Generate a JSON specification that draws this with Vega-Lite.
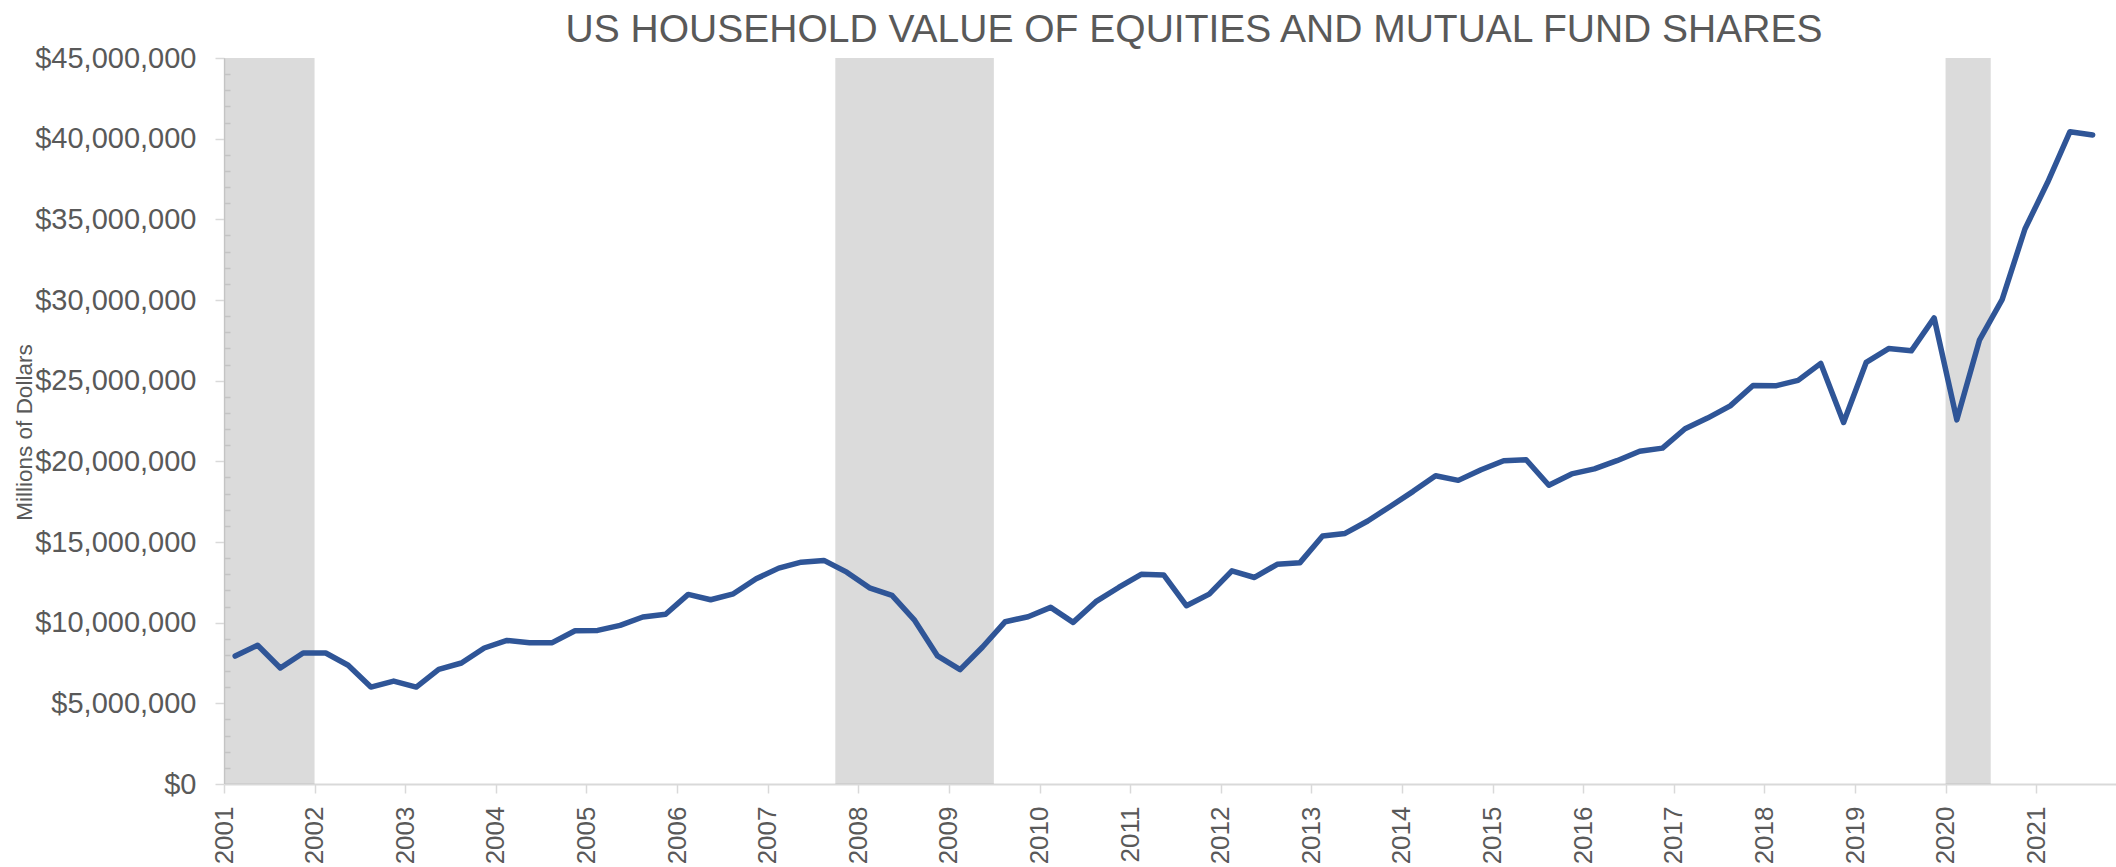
{
  "$schema": "https://vega.github.io/schema/vega-lite/v6.json",
  "width": 1892,
  "height": 726,
  "autosize": {"type": "none"},
  "padding": {"left": 224, "top": 58, "right": 0, "bottom": 83},
  "background": "white",
  "config": {"view": {"stroke": null}, "font": "Liberation Sans"},
  "title": {
    "text": "US HOUSEHOLD VALUE OF EQUITIES AND MUTUAL FUND SHARES",
    "orient": "top",
    "frame": "group",
    "anchor": "middle",
    "dx": 24,
    "dy": 22,
    "offset": 16,
    "fontSize": 39,
    "fontWeight": "normal",
    "color": "#595959",
    "font": "Liberation Sans"
  },
  "datasets": {
    "recessions": [
      {"start": "2001-01-01", "end": "2002-01-01"},
      {"start": "2007-10-01", "end": "2009-07-01"},
      {"start": "2020-01-01", "end": "2020-07-01"}
    ],
    "series": [
      {"date": "2001-01-01", "value": 7930000},
      {"date": "2001-04-01", "value": 8600000},
      {"date": "2001-07-01", "value": 7190000},
      {"date": "2001-10-01", "value": 8120000},
      {"date": "2002-01-01", "value": 8120000},
      {"date": "2002-04-01", "value": 7360000},
      {"date": "2002-07-01", "value": 6010000},
      {"date": "2002-10-01", "value": 6380000},
      {"date": "2003-01-01", "value": 6010000},
      {"date": "2003-04-01", "value": 7110000},
      {"date": "2003-07-01", "value": 7500000},
      {"date": "2003-10-01", "value": 8430000},
      {"date": "2004-01-01", "value": 8900000},
      {"date": "2004-04-01", "value": 8760000},
      {"date": "2004-07-01", "value": 8760000},
      {"date": "2004-10-01", "value": 9500000},
      {"date": "2005-01-01", "value": 9520000},
      {"date": "2005-04-01", "value": 9830000},
      {"date": "2005-07-01", "value": 10350000},
      {"date": "2005-10-01", "value": 10520000},
      {"date": "2006-01-01", "value": 11750000},
      {"date": "2006-04-01", "value": 11420000},
      {"date": "2006-07-01", "value": 11790000},
      {"date": "2006-10-01", "value": 12720000},
      {"date": "2007-01-01", "value": 13380000},
      {"date": "2007-04-01", "value": 13750000},
      {"date": "2007-07-01", "value": 13860000},
      {"date": "2007-10-01", "value": 13130000},
      {"date": "2008-01-01", "value": 12160000},
      {"date": "2008-04-01", "value": 11690000},
      {"date": "2008-07-01", "value": 10140000},
      {"date": "2008-10-01", "value": 7940000},
      {"date": "2009-01-01", "value": 7090000},
      {"date": "2009-04-01", "value": 8490000},
      {"date": "2009-07-01", "value": 10060000},
      {"date": "2009-10-01", "value": 10370000},
      {"date": "2010-01-01", "value": 10950000},
      {"date": "2010-04-01", "value": 10020000},
      {"date": "2010-07-01", "value": 11300000},
      {"date": "2010-10-01", "value": 12180000},
      {"date": "2011-01-01", "value": 13000000},
      {"date": "2011-04-01", "value": 12960000},
      {"date": "2011-07-01", "value": 11050000},
      {"date": "2011-10-01", "value": 11770000},
      {"date": "2012-01-01", "value": 13210000},
      {"date": "2012-04-01", "value": 12800000},
      {"date": "2012-07-01", "value": 13620000},
      {"date": "2012-10-01", "value": 13720000},
      {"date": "2013-01-01", "value": 15370000},
      {"date": "2013-04-01", "value": 15530000},
      {"date": "2013-07-01", "value": 16300000},
      {"date": "2013-10-01", "value": 17220000},
      {"date": "2014-01-01", "value": 18140000},
      {"date": "2014-04-01", "value": 19110000},
      {"date": "2014-07-01", "value": 18820000},
      {"date": "2014-10-01", "value": 19480000},
      {"date": "2015-01-01", "value": 20040000},
      {"date": "2015-04-01", "value": 20100000},
      {"date": "2015-07-01", "value": 18520000},
      {"date": "2015-10-01", "value": 19220000},
      {"date": "2016-01-01", "value": 19530000},
      {"date": "2016-04-01", "value": 20040000},
      {"date": "2016-07-01", "value": 20620000},
      {"date": "2016-10-01", "value": 20820000},
      {"date": "2017-01-01", "value": 22020000},
      {"date": "2017-04-01", "value": 22680000},
      {"date": "2017-07-01", "value": 23440000},
      {"date": "2017-10-01", "value": 24700000},
      {"date": "2018-01-01", "value": 24680000},
      {"date": "2018-04-01", "value": 25020000},
      {"date": "2018-07-01", "value": 26070000},
      {"date": "2018-10-01", "value": 22410000},
      {"date": "2019-01-01", "value": 26130000},
      {"date": "2019-04-01", "value": 26990000},
      {"date": "2019-07-01", "value": 26850000},
      {"date": "2019-10-01", "value": 28890000},
      {"date": "2020-01-01", "value": 22570000},
      {"date": "2020-04-01", "value": 27510000},
      {"date": "2020-07-01", "value": 30020000},
      {"date": "2020-10-01", "value": 34400000},
      {"date": "2021-01-01", "value": 37280000},
      {"date": "2021-04-01", "value": 40430000},
      {"date": "2021-07-01", "value": 40230000}
    ]
  },
  "layer": [
    {
      "data": {"name": "recessions"},
      "mark": {"type": "rect", "color": "#a6a6a6", "opacity": 0.4},
      "encoding": {
        "x": {
          "field": "start",
          "type": "temporal",
          "scale": {"type": "utc", "domain": [{"year": 2001, "month": 1, "date": 1, "utc": true}, {"year": 2021, "month": 11, "date": 18, "utc": true}]},
          "title": null
        },
        "x2": {"field": "end"},
        "y": {
          "datum": 0,
          "type": "quantitative",
          "scale": {"domain": [0, 45000000], "nice": false},
          "axis": {
            "orient": "right",
            "offset": -1892,
            "values": [1000000, 2000000, 3000000, 4000000, 6000000, 7000000, 8000000, 9000000, 11000000, 12000000, 13000000, 14000000, 16000000, 17000000, 18000000, 19000000, 21000000, 22000000, 23000000, 24000000, 26000000, 27000000, 28000000, 29000000, 31000000, 32000000, 33000000, 34000000, 36000000, 37000000, 38000000, 39000000, 41000000, 42000000, 43000000, 44000000],
            "labels": false,
            "grid": false,
            "domain": false,
            "ticks": true,
            "tickSize": 6,
            "tickColor": "#d9d9d9",
            "tickWidth": 1.5,
            "title": null
          }
        },
        "y2": {"datum": 45000000}
      }
    },
    {
      "data": {"name": "series"},
      "mark": {"type": "line", "color": "#2f5597", "strokeWidth": 5.5, "strokeJoin": "round", "strokeCap": "round"},
      "encoding": {
        "x": {
          "field": "date",
          "type": "temporal",
          "timeUnit": "utcyearquarter",
          "bandPosition": 0.5,
          "title": null,
          "axis": {
            "tickCount": {"interval": "year", "step": 1},
            "labelExpr": "utcFormat(datum.value, '%Y')",
            "labelAngle": 270,
            "labelFontSize": 26,
            "labelColor": "#595959",
            "labelFont": "Liberation Sans",
            "labelPadding": 13,
            "labelFlush": false,
            "labelOverlap": false,
            "tickSize": 9,
            "tickColor": "#d9d9d9",
            "tickWidth": 1.5,
            "domainColor": "#d9d9d9",
            "domainWidth": 2,
            "grid": false
          }
        },
        "y": {
          "field": "value",
          "type": "quantitative",
          "scale": {"domain": [0, 45000000], "nice": false},
          "axis": {
            "values": [0, 5000000, 10000000, 15000000, 20000000, 25000000, 30000000, 35000000, 40000000, 45000000],
            "format": "$,.0f",
            "labelFontSize": 29,
            "labelColor": "#595959",
            "labelFont": "Liberation Sans",
            "labelPadding": 19,
            "tickSize": 9,
            "tickColor": "#d9d9d9",
            "tickWidth": 1.5,
            "domainColor": "#d9d9d9",
            "domainWidth": 1.5,
            "gridColor": "#d9d9d9",
            "gridWidth": 1.5,
            "title": "Millions of Dollars",
            "titleFont": "Liberation Sans",
            "titleFontSize": 22.5,
            "titleFontWeight": "normal",
            "titleColor": "#595959",
            "titleX": -200,
            "titleY": 374,
            "titleAngle": 270,
            "titleAlign": "center",
            "titleBaseline": "middle"
          }
        }
      }
    }
  ],
  "resolve": {"axis": {"y": "independent"}}
}
